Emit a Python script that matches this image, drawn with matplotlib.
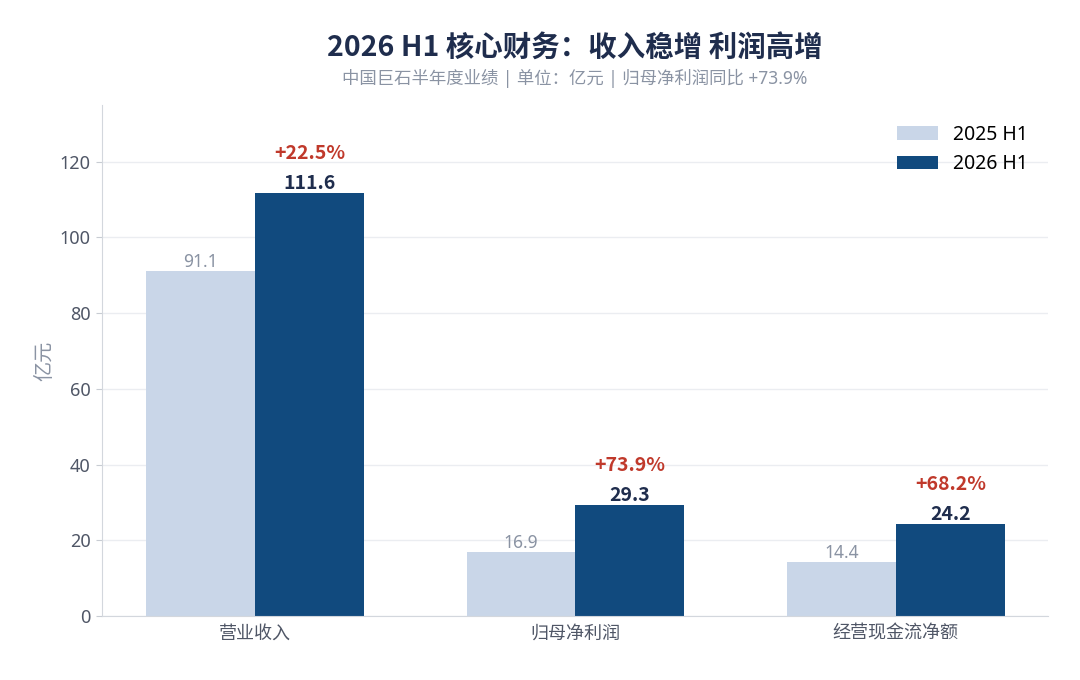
import numpy as np
import matplotlib.pyplot as plt

plt.rcParams['font.family'] = ['Noto Sans', 'Noto Sans CJK SC', 'DejaVu Sans']
BOLD = ['Noto Sans CJK SC', 'DejaVu Sans']

categories = ['营业收入', '归母净利润', '经营现金流净额']
h1_2025 = [91.1, 16.9, 14.4]
h1_2026 = [111.6, 29.3, 24.2]
growth = ['+22.5%', '+73.9%', '+68.2%']

c_light = '#c9d6e8'
c_dark = '#114a7e'
navy = '#1f2d4d'
gray = '#8a93a3'
red = '#c0392b'

fig = plt.figure(figsize=(10.8, 6.8), dpi=100)
ax = fig.add_axes([0.0944, 0.094, 0.876, 0.752])

x = np.arange(len(categories))
w = 0.34
ax.bar(x - w / 2, h1_2025, w, color=c_light, label='2025 H1', zorder=2)
ax.bar(x + w / 2, h1_2026, w, color=c_dark, label='2026 H1', zorder=2)

for xi, v in zip(x - w / 2, h1_2025):
    ax.annotate(f'{v:.1f}', (xi, v), xytext=(0, 0), textcoords='offset points',
                ha='center', va='bottom', fontsize=12.5, color=gray)
for xi, v, g in zip(x + w / 2, h1_2026, growth):
    ax.annotate(f'{v:.1f}', (xi, v), xytext=(0, 0), textcoords='offset points',
                ha='center', va='bottom', fontsize=14, fontweight='bold',
                color=navy, family=BOLD)
    ax.annotate(g, (xi, v), xytext=(0, 22), textcoords='offset points',
                ha='center', va='bottom', fontsize=14, fontweight='bold',
                color=red, family=BOLD)

ax.set_xlim(-0.478, 2.475)
ax.set_ylim(0, 135)
ax.set_yticks(range(0, 121, 20))
ax.set_xticks(x)
ax.set_xticklabels(categories)
ax.tick_params(axis='both', colors='#4f5666', labelsize=13, length=4)
ax.tick_params(axis='x', length=0, pad=6)
ax.tick_params(axis='y', color='#c8ccd3', pad=4)
ax.set_ylabel('亿元', fontsize=14.5, color=gray, labelpad=3)
ax.yaxis.grid(True, color='#ebedf1', linewidth=1, zorder=0)
ax.set_axisbelow(True)
for s in ['top', 'right']:
    ax.spines[s].set_visible(False)
for s in ['left', 'bottom']:
    ax.spines[s].set_color('#d3d7dd')

ax.legend(loc='upper right', frameon=False, fontsize=14, labelspacing=0.5,
          handlelength=2.1, handleheight=0.72, handletextpad=0.8, borderaxespad=0.62)

cx = 0.0944 + 0.876 / 2
fig.text(cx, 0.929, '2026 H1 核心财务：收入稳增 利润高增', ha='center', va='center',
         fontsize=20.5, fontweight='bold', color=navy, family=BOLD)
fig.text(cx, 0.884, '中国巨石半年度业绩 | 单位：亿元 | 归母净利润同比 +73.9%', ha='center',
         va='center', fontsize=12.5, color=gray)

fig.savefig('out.png', dpi=100, facecolor='white')
